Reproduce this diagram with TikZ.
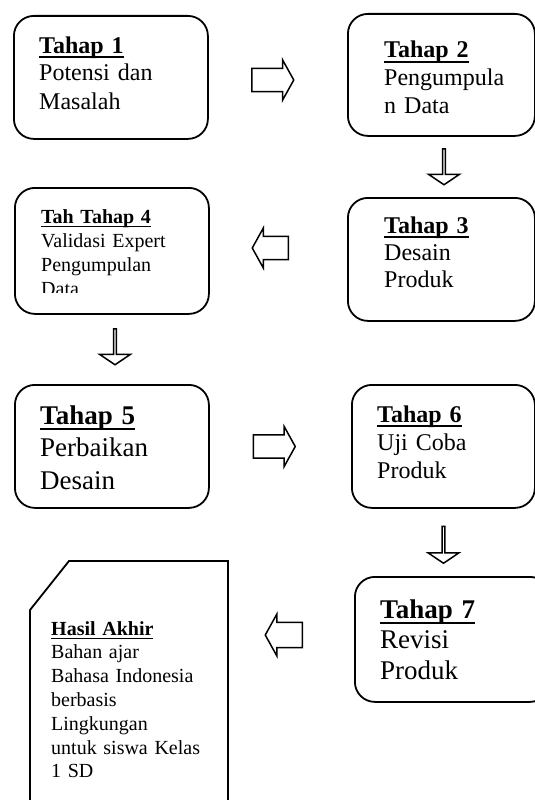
\documentclass[tikz,border=0pt]{standalone}
\usepackage{fontspec}
\setmainfont{Liberation Serif}
\usetikzlibrary{shapes.arrows}

\newcommand{\garisbawah}[1]{\leavevmode\setbox0\hbox{#1}\rlap{\rule[-0.22em]{\wd0}{0.08em}}\box0}

\tikzset{
  kotak/.style={draw, line width=1.8pt, rounded corners=20pt, anchor=north west, inner sep=0pt},
  isi/.style={anchor=base west, inner sep=0pt, text width=190pt, align=left},
  panah/.style={draw, line width=1.5pt, single arrow, inner xsep=0pt, anchor=tail},
  panahH/.style={panah, minimum height=42pt, minimum width=40pt, inner ysep=9pt, single arrow tip angle=122},
  panahV/.style={panah, minimum height=36pt, minimum width=31pt, inner ysep=7pt, single arrow tip angle=112, shape border rotate=270},
}

\begin{document}
\begin{tikzpicture}[x=1pt, y=-1pt]

            \useasboundingbox (0,0) rectangle (535,800);

            % kotak tahap
            \node[kotak, minimum width=194pt, minimum height=123pt] (tahap1) at (13,15) {};
            \node[kotak, minimum width=187pt, minimum height=122pt] (tahap2) at (347,13) {};
            \node[kotak, minimum width=187pt, minimum height=123pt] (tahap3) at (347,197) {};
            \node[kotak, minimum width=194pt, minimum height=126pt] (tahap4) at (14,187) {};
            \node[kotak, minimum width=194pt, minimum height=123pt] (tahap5) at (14,384) {};
            \node[kotak, minimum width=183pt, minimum height=123pt] (tahap6) at (351,384) {};
            \node[kotak, minimum width=195pt, minimum height=125pt] (tahap7) at (354,576) {};

            % hasil akhir
            \draw[line width=1.8pt] (30,805) -- (30,610) -- (69,561) -- (228,561) -- (228,805);

            % isi kotak
            \node[isi, font=\fontsize{24}{28}\selectfont] (isi1) at (39,53)
                {\textbf{\garisbawah{Tahap 1}}\\Potensi dan\\Masalah};
            \node[isi, font=\fontsize{24}{27.5}\selectfont] (isi2) at (384,58)
                {\textbf{\garisbawah{Tahap 2}}\\Pengumpula\\n Data};
            \node[isi, font=\fontsize{24}{27}\selectfont] (isi3) at (384,233)
                {\textbf{\garisbawah{Tahap 3}}\\Desain\\Produk};
            \begin{scope}
                \clip (14,187) rectangle (208,292);
                \node[isi, font=\fontsize{20}{24}\selectfont] (isi4) at (41,223)
                    {\textbf{\garisbawah{Tah Tahap 4}}\\Validasi Expert\\Pengumpulan\\Data};
            \end{scope}
            \node[isi, font=\fontsize{27}{32.5}\selectfont] (isi5) at (40,424)
                {\textbf{\garisbawah{Tahap 5}}\\Perbaikan\\Desain};
            \node[isi, font=\fontsize{24}{28}\selectfont] (isi6) at (377,422)
                {\textbf{\garisbawah{Tahap 6}}\\Uji Coba\\Produk};
            \node[isi, font=\fontsize{27}{30.5}\selectfont] (isi7) at (380,618)
                {\textbf{\garisbawah{Tahap 7}}\\Revisi\\Produk};
            \node[isi, font=\fontsize{20}{23.8}\selectfont] (isihasil) at (51,635)
                {\textbf{\garisbawah{Hasil Akhir}}\\Bahan ajar\\Bahasa Indonesia\\berbasis\\Lingkungan\\untuk siswa Kelas\\1 SD};

            % panah
            \node[panahH] (p12) at (251,80) {};
            \node[panahV] (p23) at (444,148) {};
            \node[panahH, minimum height=36pt, shape border rotate=180] (p34) at (289,248) {};
            \node[panahV] (p45) at (115,328) {};
            \node[panahH] (p56) at (252.5,446.5) {};
            \node[panahV, minimum height=37pt] (p67) at (443.5,525.5) {};
            \node[panahH, minimum height=37pt, minimum width=42pt, inner ysep=10pt, shape border rotate=180] (p7h) at (303,635) {};

        \end{tikzpicture}
\end{document}
